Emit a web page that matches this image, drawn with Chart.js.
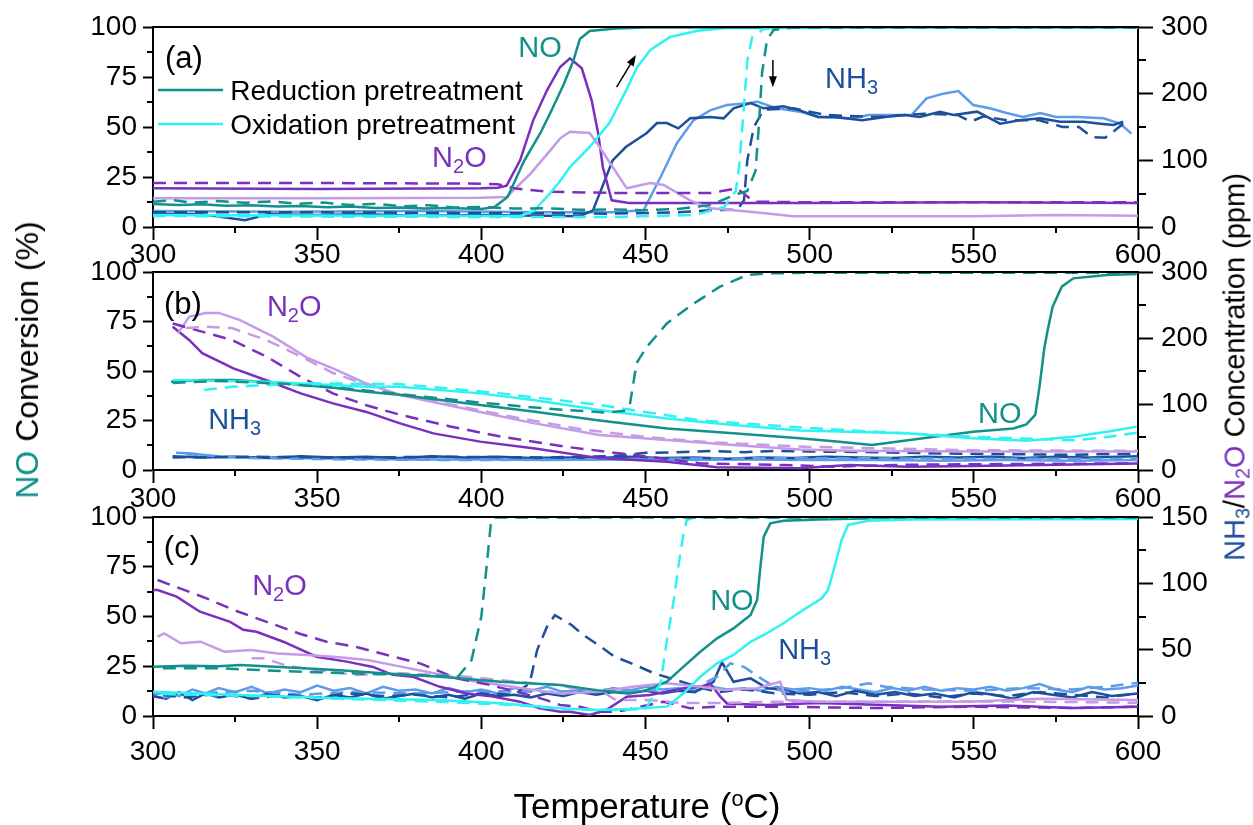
<!DOCTYPE html>
<html lang="en">
<head>
<meta charset="UTF-8">
<title>NO conversion and NH3 / N2O concentration vs temperature</title>
<style>
    body {
        margin: 0;
        background: #fff;
        overflow: hidden;
    }
    #wrap {
        position: relative;
        width: 1253px;
        height: 825px;
        font-family: "Liberation Sans", Arial, sans-serif;
        color: #000;
    }
    #wrap canvas {
        position: absolute;
        left: 0;
        top: 0;
    }
    .axis-title {
        position: absolute;
        white-space: nowrap;
        transform: translate(-50%, -50%);
        line-height: 1;
    }
    .rot {
        transform: translate(-50%, -50%) rotate(-90deg);
    }
    .sub {
        font-size: 68%;
        position: relative;
        top: 0.25em;
    }
    .sup {
        font-size: 62%;
        position: relative;
        top: -0.55em;
    }
</style>
</head>
<body>
<div id="wrap">
    <canvas id="panelA" width="1253" height="825"></canvas>
    <canvas id="panelB" width="1253" height="825"></canvas>
    <canvas id="panelC" width="1253" height="825"></canvas>

    <div class="axis-title rot" style="left:27px; top:360px; font-size:32px;">
        <span style="color:#12908a">NO</span> Conversion (%)
    </div>
    <div class="axis-title rot" style="left:1235px; top:367px; font-size:29px;">
        <span style="color:#1d4f9a">NH<span class="sub">3</span></span>/<span style="color:#7b2fbf">N<span class="sub">2</span>O</span> Concentration (ppm)
    </div>
    <div class="axis-title" style="left:647px; top:805px; font-size:35px;">
        Temperature (<span class="sup">o</span>C)
    </div>
</div>

<script src="https://cdn.jsdelivr.net/npm/chart.js"></script>
<script>
    // ---- colours ----
    const TEAL = '#12908a';     // NO, reduction pretreatment
    const CYAN = '#30f2f2';     // NO, oxidation pretreatment
    const PURPLE = '#7b2fbf';   // N2O, reduction
    const LILAC = '#c49be6';    // N2O, oxidation
    const NAVY = '#1d4f9a';     // NH3, reduction
    const SKY = '#5d9cea';      // NH3, oxidation
    const FONT = '"Liberation Sans", Arial, sans-serif';

    // ---- panel (a): [temperature, value]; NO in %, N2O / NH3 in ppm ----
    const aNoRed = [[300,11.5],[308,11],[315,11.4],[322,10.6],[330,10.9],[338,10.2],[345,10.5],[353,9.9],[360,10.2],[368,9.5],[375,9.8],[383,9.2],[390,9.5],[400,9],[404,10],[408,15],[413,33],[418,47],[421,57],[425,71],[428,83],[430,94],[433,98],[441,99.3],[450,99.7],[600,99.8]];
    const aNoRedDash = [[300,12.6],[306,13.4],[312,12.2],[320,13],[328,12.1],[336,12.8],[344,11.6],[352,12.2],[360,11],[368,11.6],[376,10.4],[384,10.9],[392,9.8],[400,10],[410,9.2],[420,9.4],[430,8.6],[440,8.8],[450,8.4],[460,9],[470,11],[477,16],[481,18],[483.5,28],[484.5,50],[485.5,77],[487,93.5],[489,98.5],[495,99.8],[600,99.8]];
    const aNoOx = [[300,6],[350,5.8],[400,5.5],[412,5.5],[416,8],[421,17],[424,23],[427,30],[433,40],[439,52],[444,68],[447.5,80],[451.5,88.5],[457.5,95],[465.5,98],[474,99.5],[600,99.8]];
    const aNoOxDash = [[300,5.5],[350,5.2],[400,5],[440,5],[465,6],[474,10],[477.5,18],[478.5,30],[479.5,50],[481,83],[482.5,95],[486,99],[490,99.8],[600,99.8]];
    const aN2oRed = [[300,58],[350,57],[400,58],[405,59],[407.7,62],[411.8,100],[415.8,160],[420,205],[424,240],[427,253],[430.6,238],[433.6,190],[435.6,140],[437,90],[439.7,40],[445,36],[500,36],[550,37],[600,36]];
    const aN2oRedDash = [[300,66],[350,66],[400,65],[405,64],[410,58],[420,53],[440,51],[470,51],[477.8,58],[480,50],[483,38],[500,37],[600,37]];
    const aN2oOx = [[300,43],[350,43],[400,44],[407.7,45],[415,80],[421,115],[424,133],[427,143],[433,141],[436,120],[440,90],[444.3,58],[451.4,66],[455.5,63],[463.6,40],[469.7,28],[482,23],[495,16],[520,16],[550,16],[575,18],[600,17]];
    const aNh3Red = [[300,20],[315,19],[328,10],[335,19],[350,18],[365,19],[380,17],[400,18],[420,17],[430,16],[434,25],[440,100],[444,120],[450.4,141],[453.5,156],[456.5,156],[460,148],[463.6,163],[469.7,165],[473.8,163],[476.8,178],[482,186],[486,178],[492,181],[497,175],[502.6,165],[507.6,165],[516,160],[523,165],[529,168],[533.5,165],[539.7,173],[543.8,168],[551,173],[558,155],[564,160],[570.2,163],[576.3,158],[583.4,158],[588.5,155],[592.5,153],[595.5,158]];
    const aNh3RedDash = [[300,22],[350,22],[400,21],[440,20],[460,22],[470,25],[478,26],[480,40],[481,100],[483,150],[486,176],[495,178],[505,168],[520,165],[535,170],[545,168],[549,158],[553,166],[560,160],[570,160],[577,150],[582,150],[586,135],[590,134],[593,145],[595.5,155]];
    const aNh3Ox = [[300,24],[340,23],[380,24],[420,22],[440,22],[449.4,25],[454.6,75],[459.6,126],[464.6,160],[469.7,175],[474.8,183],[482,186],[484,188],[490,178],[497,173],[502.6,165],[512.8,163],[518,168],[531,168],[535.6,193],[540.7,200],[545.3,204],[549.8,183],[554.9,178],[560,171],[565,165],[570.2,171],[575,165],[581.3,165],[589.5,163],[594.5,155],[598,140]];

    // ---- panel (b) ----
    const bNoRed = [[305.5,44.6],[315,45.5],[324,45.5],[335,44.5],[345,43],[355,41.5],[365,39.5],[375,38],[387,35.5],[399.6,32.8],[415.8,29.5],[436,25],[456.5,21],[476.7,18.5],[497,16],[509,14.3],[519,12.6],[534.5,16],[549.8,19.3],[562,21],[566,23],[568.7,27.8],[570,42],[571.5,62],[572.5,70.7],[574,82.5],[576.8,92.6],[580.3,96.8],[590.5,98.5],[599.6,99]];
    const bNoRedDash = [[306,44],[320,45],[340,43.5],[360,41],[380,37.5],[400,34],[420,31],[438,29],[444,30],[445.3,33.7],[447.3,54],[450.3,62],[456.5,74],[464.6,84],[472.7,92.6],[481,98.5],[487,99.3],[500,99.6],[600,99.6]];
    const bNoOx = [[306,45.5],[334.5,44.6],[365,42],[375,42],[399.6,38.7],[415.8,35.4],[436,30.3],[456.5,26],[476.7,22.7],[497,20],[512,19.3],[529.6,18.5],[549.8,16],[566,14.8],[580.3,16.8],[590.5,19.3],[599.6,21.9]];
    const bNoOxDash = [[315.5,40.4],[324,42],[345,43.8],[375,43.4],[406,38.7],[436,32.8],[467,25],[497,21.5],[512,20],[549.8,16.8],[580.3,15],[590,16.5],[599.6,18.8]];
    const bN2oRed = [[306,217],[311,197],[315,177],[324.5,154],[334.5,136],[345,116],[354.8,101],[365,88],[375,71],[385.4,55.5],[399.6,43],[415.8,33],[436,18],[456.5,12.6],[471.8,4],[497,2.5],[512,7.6],[530,5],[550,6],[575,8],[600,10]];
    const bN2oRedDash = [[306,222],[311,215],[324,197],[334.5,172],[345,141],[354.8,116],[365,98],[375,84],[390.5,66],[406,50.5],[426,35],[446,23],[467,10],[492,7.6],[507,5],[530,8],[560,9],[600,10]];
    const bN2oOx = [[307.6,207],[311,232],[316,238],[320,238],[326.5,227],[336.6,202],[347,170],[354.8,154],[365,131],[375,114],[399.6,88],[415.8,71],[436,53],[456.5,45.5],[476.7,38],[497,31],[512.3,29],[550,28],[600,28]];
    const bN2oOxDash = [[310,215],[316,217],[324,215],[334.5,197],[345,172],[354.8,147],[365,129],[371,119],[390,100],[410,80],[430,62],[450,50],[470,42],[500,35],[550,30],[600,29]];
    const bNh3Red = [[306,21],[315,19],[325,20],[335,18],[345,21],[355,19],[365,20],[375,18],[385,21],[395,19],[405,20],[415,18],[425,19],[435,18],[445,20],[455,18],[465,19],[475,17],[485,19],[495,18],[505,20],[515,19],[525,18],[535,20],[545,19],[555,20],[565,18],[575,20],[585,19],[600,21]];
    const bNh3RedDash = [[306,19],[330,20],[360,19],[390,20],[420,19],[440,21],[450,26],[460,27],[470,29],[480,27],[490,29],[500,28],[520,27],[540,25],[560,24],[580,23],[600,25]];
    const bNh3Ox = [[307,26],[312,25],[320,20],[340,18],[360,17],[380,16],[400,16],[420,15],[440,16],[460,15],[480,16],[500,15],[520,15],[540,14],[560,15],[580,14],[600,15]];
    const bNh3OxDash = [[310,24],[330,18],[360,16],[400,15],[450,17],[500,18],[550,17],[600,17]];

    // ---- panel (c) ----
    const cNoRed = [[300,24.8],[310,25.2],[320,25],[326.5,25.6],[340,24.5],[357,23],[370,21.5],[387.4,19.7],[405.9,17.2],[424,15.6],[435,13],[445,11.5],[450.4,13],[456.5,17.2],[461.6,24.8],[466.7,32.3],[471.8,39],[476.8,44],[482,50.8],[484,58.3],[485,75],[486,90],[488,96.8],[492,98.1],[502.6,98.8],[520,99.4],[600,99.5]];
    const cNoRedDash = [[303,24],[320,24],[340,22.5],[360,21.5],[380,20.5],[393,20],[397,28],[400,50],[401.6,75],[403,98.5],[404,99.8],[600,99.8]];
    const cNoOx = [[300,12.2],[326.5,10.5],[357,8.9],[387.4,8],[405.9,6.4],[424,3.9],[435,3],[445,3.5],[456.5,4.7],[461.6,11.4],[466.7,19.7],[471.8,26.5],[476.8,30.7],[482,37.3],[487,41.6],[492,46.6],[498,53.3],[503.6,59],[505.6,63.3],[507.6,75],[509.7,88.4],[511.7,96],[517.8,98.1],[530,98.8],[600,99]];
    const cNoOxDash = [[303,11],[330,10],[360,8.5],[390,7],[410,5.5],[425,3.5],[440,3],[450,3.5],[454.6,16.4],[456.5,38],[458.6,58],[460,75],[461.6,91.8],[462.6,98.5],[465,99.8],[600,99.8]];
    const cN2oRed = [[300,95],[301.4,95],[307.2,90],[314.3,78.6],[323.5,71],[327.5,65],[331.5,63.5],[339.7,56],[349.8,44.7],[359,41],[367,37],[373,31],[379.2,29.6],[387.4,22],[395.5,17],[403.6,14.6],[411.7,10.8],[417.8,5.8],[424,3.2],[427,3.2],[433,0.75],[438,4.5],[444.3,14.6],[451.4,15.8],[461.6,21],[466.7,22],[469.7,24.6],[472.8,14.6],[474.8,9.5],[487,8.3],[502.6,9.8],[522.8,8.3],[540,7],[560,8],[580,6],[600,7]];
    const cN2oRedDash = [[301.4,102.5],[316.3,88.7],[324.5,80],[334.6,71],[344.7,62],[352.9,56],[362,52],[373.2,44.7],[381.3,39.7],[392.5,28.4],[402.6,23.4],[412.7,17],[419.8,12],[424,8.3],[430,7],[436,3.2],[441,3.2],[444,4.5],[455.5,10.8],[463.6,5.8],[471.8,7],[490,7],[520,6],[550,7],[580,6],[600,7]];
    const cN2oOx = [[301.4,59.8],[303.4,62.3],[308.5,54.8],[314.5,56],[321.7,48.5],[329.8,49.7],[338,47.2],[347,46],[355,44.7],[365.3,42.2],[375.5,37.2],[385.6,32.2],[395.7,27],[405.9,23.4],[416,19.6],[424,17],[436,18.3],[446,22],[456.5,24.6],[466.7,22],[474,19.6],[484,21],[491,25.8],[493,12],[502.6,10.8],[523,10.8],[550,11],[570,13],[600,12]];
    const cN2oOxDash = [[330,43.5],[334,43.5],[340,38.4],[349,34.7],[362,31],[375.5,32.2],[395.7,29.6],[406,27],[416,24.6],[424,23.4],[430,19.6],[436,19.6],[441,12],[451,12],[461,9.8],[472,9.8],[490,10.8],[520,10.8],[560,11],[600,10]];
    const cNh3Red = [[300,15],[304,13],[308,18],[312,12],[316,17],[320,14],[325,16],[330,13],[335,17],[340,14],[345,15],[350,12],[355,16],[360,14],[365,17],[370,13],[375,15],[380,17],[385,14],[390,16],[395,13],[400,17],[405,15],[410,16],[415,14],[420,17],[425,15],[430,18],[435,16],[440,18],[445,17],[450,19],[455,17],[460,19],[465,18],[470.7,25.8],[473.3,40.5],[476.8,25.8],[482,28.4],[487,21],[492,19.6],[497,17],[502.6,18],[508,15],[514,19],[520,16],[526,18],[532,15],[538,17],[544,14],[550,18],[556,16],[562,13],[568,18],[574,16],[580,14],[586,18],[592,15],[600,17]];
    const cNh3RedDash = [[303,16],[310,14],[320,17],[330,13],[340,16],[350,14],[360,17],[370,15],[380,16],[390,14],[400,17],[410,16],[414.7,24.6],[417,49.7],[420,67.3],[422.4,76],[427.5,68.6],[430.5,62],[436.5,52],[440.6,44.7],[445.7,39.7],[452.8,32],[461,25.8],[466,22],[472,18],[480,20],[490,17],[500,16],[510,18],[520,15],[530,17],[540,14],[550,17],[560,15],[570,18],[580,16],[590,14],[600,17]];
    const cNh3Ox = [[300,16],[304,18],[308,15],[312,20],[316,17],[320,21],[325,18],[330,22],[335,17],[340,20],[345,18],[350,23],[355,19],[360,21],[365,17],[370,22],[375,19],[380,20],[385,17],[390,21],[395,18],[400,20],[405,17],[410,21],[415,19],[420,22],[425,18],[430,20],[435,17],[440,21],[445,19],[450,22],[455,20],[460,21],[465,19],[470,22],[475,20],[480,21],[485,19],[490,22],[495,20],[500,21],[505,19],[510,22],[515,20],[520,18],[525,21],[530,19],[535,22],[540,19],[545,21],[550,20],[555,22],[560,19],[565,21],[570,24],[575,20],[580,18],[585,22],[590,20],[595,21],[600,23]];
    const cNh3OxDash = [[303,14],[315,17],[330,19],[345,16],[360,18],[380,17],[400,19],[420,18],[440,20],[455,19],[465,21],[471.8,29.6],[475.8,39.7],[480,37],[486,27],[492,18],[500,19],[510,21],[518,24.6],[523,22],[535,20],[550,19],[565,21],[580,20],[590,22],[600,25]];

    // ---- axes ----
    const tempTicks = { min: 300, max: 600, step: 50 };
    const convTicks = { min: 0, max: 100, step: 25 };
    const ppmRangeAB = { max: 300, step: 100 };
    const ppmRangeC = { max: 150, step: 50 };

    // ---- in-plot text; positions in [temperature, conversion %] ----
    // parts starting with "_" are subscripts
    const notesA = [
        { parts: ['(a)'], at: [309.4, 85], color: '#000', align: 'center', size: 31 },
        { parts: ['NO'], at: [417.9, 90], color: TEAL, align: 'center' },
        { parts: ['N', '_2', 'O'], at: [385, 35], color: PURPLE, align: 'left' },
        { parts: ['NH', '_3'], at: [504.7, 74.5], color: NAVY, align: 'left' }
    ];
    const notesB = [
        { parts: ['(b)'], at: [309.1, 84.3], color: '#000', align: 'center', size: 31 },
        { parts: ['N', '_2', 'O'], at: [334.7, 82.8], color: PURPLE, align: 'left' },
        { parts: ['NH', '_3'], at: [316.8, 25.8], color: NAVY, align: 'left' },
        { parts: ['NO'], at: [551.3, 28.8], color: TEAL, align: 'left' }
    ];
    const notesC = [
        { parts: ['(c)'], at: [308.8, 84.9], color: '#000', align: 'center', size: 31 },
        { parts: ['N', '_2', 'O'], at: [330.2, 65.8], color: PURPLE, align: 'left' },
        { parts: ['NO'], at: [469.7, 58.3], color: TEAL, align: 'left' },
        { parts: ['NH', '_3'], at: [490.4, 33.7], color: NAVY, align: 'left' }
    ];
    // arrows in panel (a): [fromT, from%, toT, to%]
    const arrowsA = [[441.2, 69.9, 447.1, 86], [488.8, 83.5, 488.8, 69.9]];
    // legend rows in panel (a)
    const legendA = [
        { label: 'Reduction pretreatment', color: TEAL, y: 68.5 },
        { label: 'Oxidation pretreatment', color: CYAN, y: 51.5 }
    ];
    const legendLine = [301.5, 321.3];
    const legendTextT = 323.5;

    Chart.defaults.font.family = FONT;
    Chart.defaults.color = '#000';

    function drawRich(ctx, parts, x, y, size, color, align) {
        const subSize = Math.round(size * 0.68);
        const fontFor = p => (p[0] === '_' ? subSize : size) + 'px ' + FONT;
        const txt = p => (p[0] === '_' ? p.slice(1) : p);
        let w = 0;
        parts.forEach(p => { ctx.font = fontFor(p); w += ctx.measureText(txt(p)).width; });
        let cx = align === 'center' ? x - w / 2 : x;
        const base = y + size * 0.358;
        ctx.fillStyle = color;
        ctx.textAlign = 'left';
        ctx.textBaseline = 'alphabetic';
        parts.forEach(p => {
            ctx.font = fontFor(p);
            ctx.fillText(txt(p), cx, p[0] === '_' ? base + size * 0.2 : base);
            cx += ctx.measureText(txt(p)).width;
        });
    }

    function drawArrow(ctx, x0, y0, x1, y1) {
        const ang = Math.atan2(y1 - y0, x1 - x0);
        const len = 11, half = 4;
        ctx.strokeStyle = '#000';
        ctx.fillStyle = '#000';
        ctx.lineWidth = 1.5;
        ctx.setLineDash([]);
        ctx.beginPath();
        ctx.moveTo(x0, y0);
        ctx.lineTo(x1 - Math.cos(ang) * len * 0.8, y1 - Math.sin(ang) * len * 0.8);
        ctx.stroke();
        ctx.beginPath();
        ctx.moveTo(x1, y1);
        ctx.lineTo(x1 - Math.cos(ang) * len - Math.sin(ang) * half, y1 - Math.sin(ang) * len + Math.cos(ang) * half);
        ctx.lineTo(x1 - Math.cos(ang) * len + Math.sin(ang) * half, y1 - Math.sin(ang) * len - Math.cos(ang) * half);
        ctx.closePath();
        ctx.fill();
    }

    // frame top, minor ticks, labels, legend and arrows
    const panelDecor = {
        id: 'panelDecor',
        afterDraw(chart, args, opts) {
            const { ctx, chartArea: a, scales } = chart;
            const sx = scales.x, sy = scales.y, sy1 = scales.y1;
            ctx.save();
            ctx.strokeStyle = '#000';
            ctx.lineWidth = 2;
            ctx.beginPath();
            ctx.moveTo(a.left - 1, a.top);
            ctx.lineTo(a.right + 1, a.top);
            ctx.stroke();

            ctx.beginPath();
            for (let t = tempTicks.min + tempTicks.step / 2; t < tempTicks.max; t += tempTicks.step) {
                const px = Math.round(sx.getPixelForValue(t));
                ctx.moveTo(px, a.bottom);
                ctx.lineTo(px, a.bottom + 6);
            }
            for (let v = convTicks.step / 2; v < convTicks.max; v += convTicks.step) {
                const py = Math.round(sy.getPixelForValue(v));
                ctx.moveTo(a.left, py);
                ctx.lineTo(a.left - 6, py);
            }
            for (let v = opts.ppm.step / 2; v < opts.ppm.max; v += opts.ppm.step) {
                const py = Math.round(sy1.getPixelForValue(v));
                ctx.moveTo(a.right, py);
                ctx.lineTo(a.right + 8, py);
            }
            ctx.stroke();

            (opts.notes || []).forEach(n => {
                drawRich(ctx, n.parts, sx.getPixelForValue(n.at[0]), sy.getPixelForValue(n.at[1]), n.size || 29, n.color, n.align);
            });

            (opts.legend || []).forEach(r => {
                const py = sy.getPixelForValue(r.y);
                ctx.strokeStyle = r.color;
                ctx.lineWidth = 2.5;
                ctx.beginPath();
                ctx.moveTo(sx.getPixelForValue(legendLine[0]), py);
                ctx.lineTo(sx.getPixelForValue(legendLine[1]), py);
                ctx.stroke();
                drawRich(ctx, [r.label], sx.getPixelForValue(legendTextT), py, 28, '#000', 'left');
            });

            (opts.arrows || []).forEach(ar => {
                drawArrow(ctx, sx.getPixelForValue(ar[0]), sy.getPixelForValue(ar[1]),
                    sx.getPixelForValue(ar[2]), sy.getPixelForValue(ar[3]));
            });
            ctx.restore();
        }
    };

    function series(data, color, axis, dash) {
        return {
            data: data.map(p => ({ x: p[0], y: p[1] })),
            yAxisID: axis,
            borderColor: color,
            borderWidth: 2.5,
            borderDash: dash ? [13, 8] : [],
            pointRadius: 0,
            tension: 0,
            fill: false
        };
    }

    function makePanel(id, top, bottom, labelPad, ppm, datasets, decor) {
        const xAxisH = 64;
        const tickFont = { size: 28, lineHeight: 1 };
        return new Chart(document.getElementById(id), {
            type: 'line',
            data: { datasets: datasets },
            options: {
                responsive: false,
                animation: false,
                devicePixelRatio: 1,
                layout: { padding: { top: top, bottom: 825 - bottom - xAxisH, left: 0, right: 0 } },
                plugins: {
                    legend: { display: false },
                    tooltip: { enabled: false },
                    panelDecor: Object.assign({ ppm: ppm }, decor)
                },
                scales: {
                    x: {
                        type: 'linear',
                        min: tempTicks.min,
                        max: tempTicks.max,
                        ticks: { stepSize: tempTicks.step, font: tickFont, padding: labelPad, maxRotation: 0 },
                        grid: { drawOnChartArea: false, tickLength: 13, tickWidth: 2, tickColor: '#000' },
                        border: { color: '#000', width: 2 },
                        afterFit: s => { s.height = xAxisH; }
                    },
                    y: {
                        position: 'left',
                        min: convTicks.min,
                        max: convTicks.max,
                        ticks: { stepSize: convTicks.step, font: tickFont, padding: 6 },
                        grid: { drawOnChartArea: false, tickLength: 10, tickWidth: 2, tickColor: '#000' },
                        border: { color: '#000', width: 2 },
                        afterFit: s => { s.width = 153; }
                    },
                    y1: {
                        position: 'right',
                        min: 0,
                        max: ppm.max,
                        ticks: { stepSize: ppm.step, font: tickFont, padding: 8 },
                        grid: { drawOnChartArea: false, tickLength: 15, tickWidth: 2, tickColor: '#000' },
                        border: { color: '#000', width: 2 },
                        afterFit: s => { s.width = 115; }
                    }
                }
            },
            plugins: [panelDecor]
        });
    }

    makePanel('panelA', 27, 227, 1, ppmRangeAB, [
        series(aNoRedDash, TEAL, 'y', true),
        series(aNoOxDash, CYAN, 'y', true),
        series(aNoRed, TEAL, 'y', false),
        series(aNoOx, CYAN, 'y', false),
        series(aN2oRedDash, PURPLE, 'y1', true),
        series(aN2oOx, LILAC, 'y1', false),
        series(aN2oRed, PURPLE, 'y1', false),
        series(aNh3RedDash, NAVY, 'y1', true),
        series(aNh3Red, NAVY, 'y1', false),
        series(aNh3Ox, SKY, 'y1', false)
    ], { notes: notesA, legend: legendA, arrows: arrowsA });

    makePanel('panelB', 272, 470, 2, ppmRangeAB, [
        series(bNoRedDash, TEAL, 'y', true),
        series(bNoOxDash, CYAN, 'y', true),
        series(bNoOx, CYAN, 'y', false),
        series(bNoRed, TEAL, 'y', false),
        series(bN2oOxDash, LILAC, 'y1', true),
        series(bN2oRedDash, PURPLE, 'y1', true),
        series(bN2oOx, LILAC, 'y1', false),
        series(bN2oRed, PURPLE, 'y1', false),
        series(bNh3RedDash, NAVY, 'y1', true),
        series(bNh3OxDash, SKY, 'y1', true),
        series(bNh3Red, NAVY, 'y1', false),
        series(bNh3Ox, SKY, 'y1', false)
    ], { notes: notesB });

    makePanel('panelC', 517, 716, 9, ppmRangeC, [
        series(cNoRedDash, TEAL, 'y', true),
        series(cNoOxDash, CYAN, 'y', true),
        series(cNoOx, CYAN, 'y', false),
        series(cNoRed, TEAL, 'y', false),
        series(cN2oOxDash, LILAC, 'y1', true),
        series(cN2oRedDash, PURPLE, 'y1', true),
        series(cN2oOx, LILAC, 'y1', false),
        series(cN2oRed, PURPLE, 'y1', false),
        series(cNh3RedDash, NAVY, 'y1', true),
        series(cNh3OxDash, SKY, 'y1', true),
        series(cNh3Red, NAVY, 'y1', false),
        series(cNh3Ox, SKY, 'y1', false)
    ], { notes: notesC });
</script>
</body>
</html>
